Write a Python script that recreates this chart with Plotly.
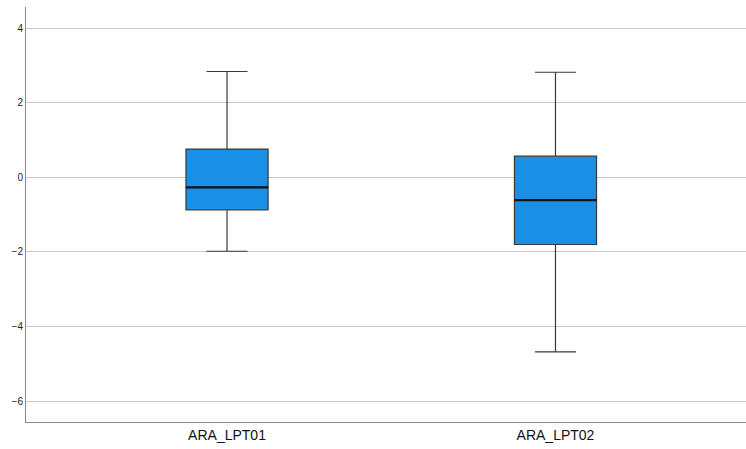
import plotly.graph_objects as go

categories = ["ARA_LPT01", "ARA_LPT02"]
positions = [0, 1]
lower_whisker = [-1.98, -4.68]
q1 = [-0.87, -1.80]
median = [-0.27, -0.61]
q3 = [0.76, 0.57]
upper_whisker = [2.84, 2.82]
y_ticks = [-6, -4, -2, 0, 2, 4]

box_width = 0.25

fig = go.Figure()
fig.add_trace(go.Box(
    x=positions,
    q1=q1, median=median, q3=q3,
    lowerfence=lower_whisker, upperfence=upper_whisker,
    width=box_width, whiskerwidth=0.5,
    fillcolor="#1a8fe6",
    line=dict(color="#3a3a3a", width=1.2),
    boxpoints=False, showlegend=False, hoverinfo="skip",
))
# thicker median line
for p, m in zip(positions, median):
    fig.add_trace(go.Scatter(
        x=[p - box_width / 2, p + box_width / 2], y=[m, m],
        mode="lines", line=dict(color="#111111", width=2.2),
        showlegend=False, hoverinfo="skip",
    ))

fig.update_layout(
    width=746, height=449,
    margin=dict(l=26, r=0, t=7, b=27),
    paper_bgcolor="white", plot_bgcolor="white",
    font=dict(family="Liberation Sans, Arial, sans-serif", color="#222"),
)
fig.update_xaxes(
    range=[-0.612, 1.58],
    tickvals=positions, ticktext=categories,
    tickfont=dict(size=14, color="#111"),
    showgrid=False, zeroline=False, ticks="",
    showline=True, linecolor="#888", linewidth=1,
)
fig.update_yaxes(
    range=[-6.56, 4.57],
    tickvals=y_ticks, tickfont=dict(size=10, color="#222"),
    showgrid=True, gridcolor="#c8c8c8", gridwidth=1,
    zeroline=True, zerolinecolor="#c8c8c8", zerolinewidth=1,
    ticks="", showline=True, linecolor="#888", linewidth=1,
)
fig.write_html("out.html")
